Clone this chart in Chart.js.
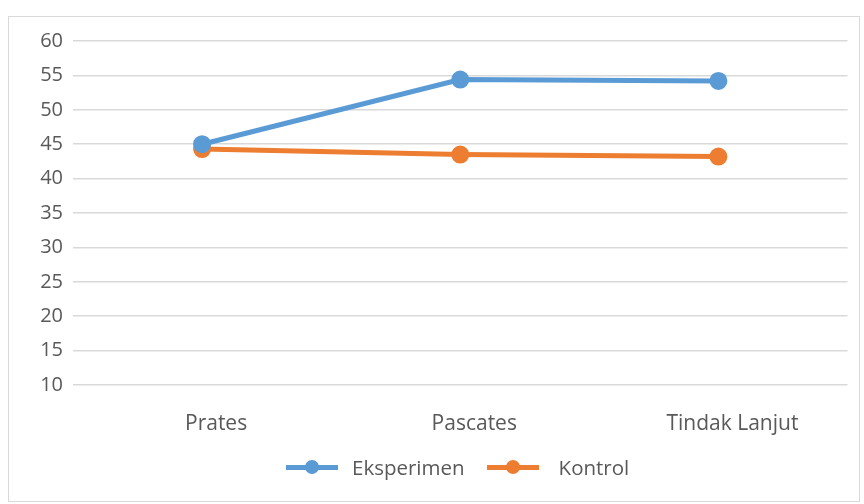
<!DOCTYPE html>
<html>
<head>
<meta charset="utf-8">
<script src="https://cdn.jsdelivr.net/npm/chart.js@4/dist/chart.umd.min.js"></script>
<style>
  html, body { margin: 0; padding: 0; background: #fff; }
  #box {
    position: absolute; left: 8px; top: 16px;
    width: 852px; height: 486px;
    border: 1px solid #d9d9d9; box-sizing: border-box;
  }
  #box canvas { position: absolute; left: 0; top: 0; }
  #legend {
    position: absolute; left: 277px; top: 436px;
    display: flex; align-items: center;
    font-family: "Open Sans", sans-serif; font-size: 20.5px; color: #595959;
  }
  .legend-item { display: flex; align-items: center; }
  .legend-sym { position: relative; width: 52px; height: 5px; }
  .legend-sym .dot {
    position: absolute; left: 19px; top: -5px; width: 14px; height: 14px; border-radius: 50%;
  }
</style>
</head>
<body>
<div id="box">
  <canvas id="chart" width="850" height="484"></canvas>
  <div id="legend"></div>
</div>
<script>
const CATEGORIES = ['Prates', 'Pascates', 'Tindak Lanjut'];
const EKSPERIMEN = [45.0, 54.4, 54.2];
const KONTROL = [44.3, 43.5, 43.2];
const Y_MIN = 10, Y_MAX = 60, Y_STEP = 5;

const BLUE = '#5B9BD5';
const ORANGE = '#ED7D31';
const TEXT = '#595959';
const GRID = '#d9d9d9';
const FONT = '"Open Sans", sans-serif';

function series(label, data, color) {
  return {
    label: label,
    data: data,
    borderColor: color,
    backgroundColor: color,
    borderWidth: 5,
    pointBackgroundColor: color,
    pointBorderColor: color,
    pointRadius: 6.5,
    tension: 0
  };
}

new Chart(document.getElementById('chart').getContext('2d'), {
  type: 'line',
  data: {
    labels: CATEGORIES,
    datasets: [
      series('Eksperimen', EKSPERIMEN, BLUE),
      series('Kontrol', KONTROL, ORANGE)
    ]
  },
  options: {
    responsive: false,
    animation: false,
    layout: { padding: { left: 0, top: 24, right: 6, bottom: 64 } },
    plugins: {
      legend: { display: false },
      tooltip: { enabled: false }
    },
    scales: {
      x: {
        offset: true,
        grid: { display: false },
        border: { display: false },
        // labels in the source sit a little right of the points
        ticks: { color: TEXT, font: { family: FONT, size: 21 }, padding: 18, labelOffset: 14, maxRotation: 0 },
        afterFit: s => { s.height = 52; }
      },
      y: {
        min: Y_MIN, max: Y_MAX,
        grid: { color: GRID, lineWidth: 1.5, drawTicks: false },
        border: { display: false },
        ticks: { stepSize: Y_STEP, color: TEXT, font: { family: FONT, size: 20 }, padding: 10 },
        afterFit: s => { s.width = 64; }
      }
    }
  }
});

const legendEl = document.getElementById('legend');
legendEl.innerHTML = [
  { color: BLUE, label: 'Eksperimen', gap: 14, after: 22 },
  { color: ORANGE, label: 'Kontrol', gap: 20, after: 0 }
].map(item => `
  <span class="legend-item" style="margin-right:${item.after}px;">
    <span class="legend-sym" style="background:${item.color};margin-right:${item.gap}px;"><span class="dot" style="background:${item.color};"></span></span>
    ${item.label}
  </span>
`).join('');
</script>
</body>
</html>
